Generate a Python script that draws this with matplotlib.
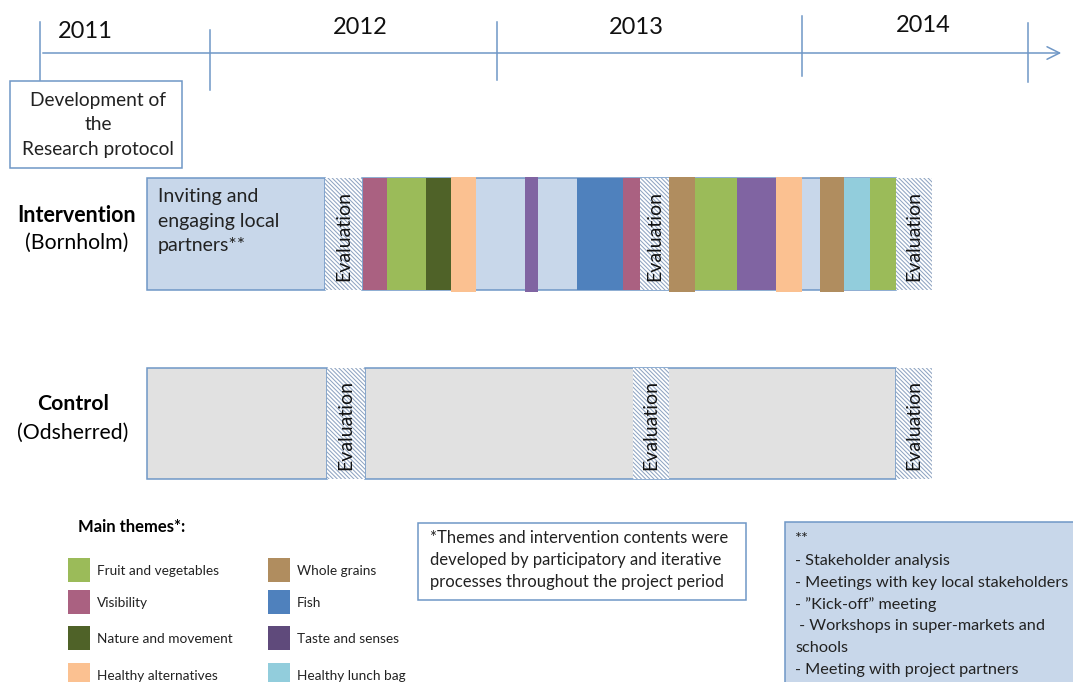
import matplotlib
matplotlib.use("Agg")
import matplotlib.pyplot as plt
from matplotlib.patches import Rectangle, FancyArrowPatch

plt.rcParams['font.family'] = ['Lato', 'DejaVu Sans']
plt.rcParams['hatch.color'] = '#8fa4c2'
plt.rcParams['hatch.linewidth'] = 0.75

# ---- data -------------------------------------------------------------
years = ['2011', '2012', '2013', '2014']
year_ticks = [40, 210, 497, 802, 1028]          # timeline tick positions
year_label_x = [85, 360, 636, 923]

themes = ['Fruit and vegetables', 'Visibility', 'Nature and movement', 'Healthy alternatives',
          'Whole grains', 'Fish', 'Taste and senses', 'Healthy lunch bag']
theme_colors = ['#9bbb59', '#aa6181', '#4f6228', '#fbc191',
                '#b08d5f', '#4f81bd', '#5f4a7b', '#92cddc']

# intervention strips: theme, start, end
strip_theme = ['Visibility', 'Fruit and vegetables', 'Nature and movement', 'Healthy alternatives',
               'Taste and senses', 'Fish', 'Visibility',
               'Whole grains', 'Fruit and vegetables', 'Taste and senses', 'Healthy alternatives',
               'Whole grains', 'Healthy lunch bag', 'Fruit and vegetables']
strip_start = [363, 387, 426, 451, 525, 577, 623, 669, 695, 737, 776, 820, 844, 870]
strip_end = [387, 426, 451, 476, 538, 623, 640, 695, 737, 776, 802, 844, 870, 896]

interv_eval = [(325, 362), (640, 669), (896, 932)]
control_eval = [(327, 365), (633, 669), (896, 932)]

notes = ['**', '- Stakeholder analysis', '- Meetings with key local stakeholders',
         '- \u201dKick-off\u201d meeting', ' - Workshops in super-markets and', 'schools',
         '- Meeting with project partners']

LINE = '#6f97c6'
LIGHTBLUE = '#c8d7ea'
GREY = '#e1e1e1'

fig = plt.figure(figsize=(10.73, 6.82), dpi=100)
ax = fig.add_axes([0, 0, 1, 1])
ax.set_xlim(0, 1073)
ax.set_ylim(682, 0)
ax.axis('off')

# ---- timeline ---------------------------------------------------------
ax.add_patch(FancyArrowPatch((40, 53), (1064, 53), arrowstyle='->,head_length=6,head_width=3',
                             color=LINE, lw=1.1, mutation_scale=1.5))
tick_spans = [(22, 80), (30, 90), (22, 80), (16, 76), (23, 82)]
for xt, (y0, y1) in zip(year_ticks, tick_spans):
    ax.plot([xt, xt], [y0, y1], color=LINE, lw=1.1)
year_label_y = [31, 28, 28, 25]
for lab, xl, yl in zip(years, year_label_x, year_label_y):
    ax.text(xl, yl, lab, fontsize=17, ha='center', va='center', color='#111111')

# development box
ax.add_patch(Rectangle((10, 81), 172, 87, facecolor='white', edgecolor=LINE, lw=1.1))
ax.text(98, 125, 'Development of\nthe\nResearch protocol', fontsize=13.8, ha='center',
        va='center', linespacing=1.56, color='#222222')

# ---- intervention row -------------------------------------------------
ax.text(77, 215, 'Intervention', fontsize=15.5, fontweight='bold', ha='center', va='center')
ax.text(77, 243, '(Bornholm)', fontsize=15.3, ha='center', va='center')

ax.add_patch(Rectangle((147, 178), 178, 112, facecolor=LIGHTBLUE, edgecolor=LINE, lw=1.1))
ax.text(158, 221, 'Inviting and\nengaging local\npartners**', fontsize=14, ha='left',
        va='center', linespacing=1.52, color='#222222')
ax.add_patch(Rectangle((362, 178), 534, 112, facecolor=LIGHTBLUE, edgecolor=LINE, lw=1.1))

col_of = dict(zip(themes, theme_colors))
col_of['Taste and senses'] = '#8064a2'   # strips drawn in the lighter purple
for th, s, e in zip(strip_theme, strip_start, strip_end):
    y0, h = 178, 112
    if th in ('Healthy alternatives', 'Whole grains') or th == 'Taste and senses' and e - s < 20:
        y0, h = 177, 115
    ax.add_patch(Rectangle((s, y0), e - s, h, facecolor=col_of[th], edgecolor='none', lw=0))


def evaluation(x0, x1, y0, h):
    ax.add_patch(Rectangle((x0, y0), x1 - x0, h, facecolor='white', hatch='\\\\\\\\\\\\\\\\', lw=0))
    ax.text((x0 + x1) / 2, y0 + h / 2 + 2, 'Evaluation', rotation=90, fontsize=14,
            ha='center', va='center', color='#111111')


for x0, x1 in interv_eval:
    evaluation(x0, x1, 178, 112)

# ---- control row ------------------------------------------------------
ax.text(73, 404, 'Control', fontsize=15.3, fontweight='bold', ha='center', va='center')
ax.text(73, 433, '(Odsherred)', fontsize=15.3, ha='center', va='center')

ax.add_patch(Rectangle((147, 368), 180, 111, facecolor=GREY, edgecolor=LINE, lw=1.1))
ax.add_patch(Rectangle((365, 368), 531, 111, facecolor=GREY, edgecolor=LINE, lw=1.1))
for x0, x1 in control_eval:
    evaluation(x0, x1, 368, 111)

# ---- legend -----------------------------------------------------------
ax.text(78, 527, 'Main themes*:', fontsize=12, fontweight='bold', ha='left', va='center')
row_y = [558, 590, 626, 663]
for i, (th, c) in enumerate(zip(themes, theme_colors)):
    col, row = divmod(i, 4)
    x = 68 + col * 200
    ax.add_patch(Rectangle((x, row_y[row]), 22, 24, facecolor=c, edgecolor='none'))
    ax.text(x + 29, row_y[row] + 13, th, fontsize=9.8, ha='left', va='center', color='#222222')

# footnote box
ax.add_patch(Rectangle((418, 523), 328, 77, facecolor='white', edgecolor=LINE, lw=1.1))
ax.text(430, 560, '*Themes and intervention contents were\ndeveloped by participatory and iterative\n'
        'processes throughout the project period', fontsize=12, ha='left', va='center',
        linespacing=1.45, color='#222222')

# ** box
ax.add_patch(Rectangle((785, 522), 300, 170, facecolor=LIGHTBLUE, edgecolor=LINE, lw=1.1))
for i, line in enumerate(notes):
    ax.text(795, 539 + i * 21.8, line, fontsize=11.7, ha='left', va='center', color='#222222')

fig.savefig('out.png', dpi=100)
